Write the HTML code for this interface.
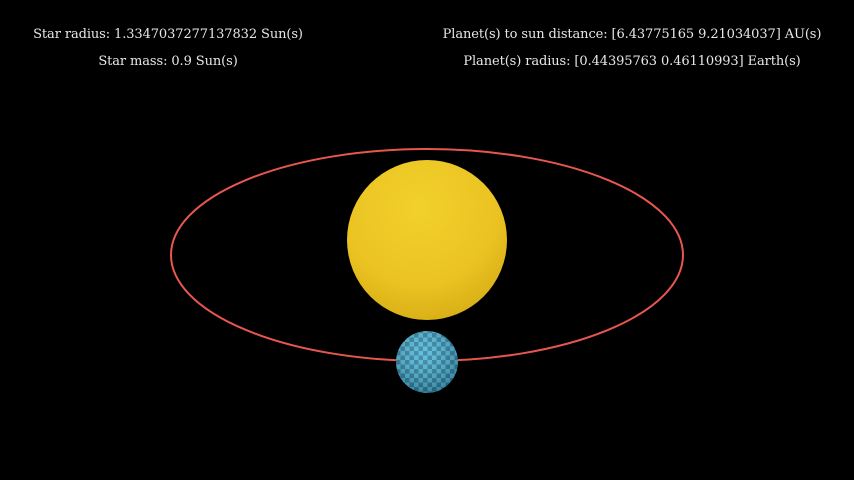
<!DOCTYPE html>
<html><head><meta charset="utf-8"><style>
html,body{margin:0;padding:0;background:#000;width:854px;height:480px;overflow:hidden}
svg{position:absolute;left:0;top:0}
.t{position:absolute;color:#e8e8e8;font-family:"DejaVu Serif","Liberation Serif",serif;font-size:13px;letter-spacing:-0.1px;white-space:nowrap;transform:translateX(-50%)}
</style></head><body>
<svg width="854" height="480">
<defs>
<radialGradient id="sun" cx="0.45" cy="0.3" r="0.8">
<stop offset="0" stop-color="#f2d12c"/><stop offset="0.6" stop-color="#ebc322"/><stop offset="1" stop-color="#d2a812"/>
</radialGradient>
<pattern id="chk" width="9" height="9" patternUnits="userSpaceOnUse">
<rect width="9" height="9" fill="#4ab8d8"/><rect width="4.5" height="4.5" fill="#2a7ea0"/><rect x="4.5" y="4.5" width="4.5" height="4.5" fill="#2a7ea0"/>
</pattern>
<radialGradient id="shade" cx="0.45" cy="0.35" r="0.7">
<stop offset="0" stop-color="#fff" stop-opacity="0.15"/><stop offset="1" stop-color="#000" stop-opacity="0.3"/>
</radialGradient>
</defs>
<ellipse cx="427" cy="255" rx="256" ry="106" fill="none" stroke="#e8574f" stroke-width="2"/>
<circle cx="427" cy="240" r="80" fill="url(#sun)"/>
<circle cx="427" cy="362" r="31" fill="url(#chk)"/>
<circle cx="427" cy="362" r="31" fill="url(#shade)"/>
</svg>
<div class="t" style="left:168px;top:27px">Star radius: 1.3347037277137832 Sun(s)</div>
<div class="t" style="left:168px;top:54px">Star mass: 0.9 Sun(s)</div>
<div class="t" style="left:632px;top:27px">Planet(s) to sun distance: [6.43775165 9.21034037] AU(s)</div>
<div class="t" style="left:632px;top:54px">Planet(s) radius: [0.44395763 0.46110993] Earth(s)</div>
</body></html>
